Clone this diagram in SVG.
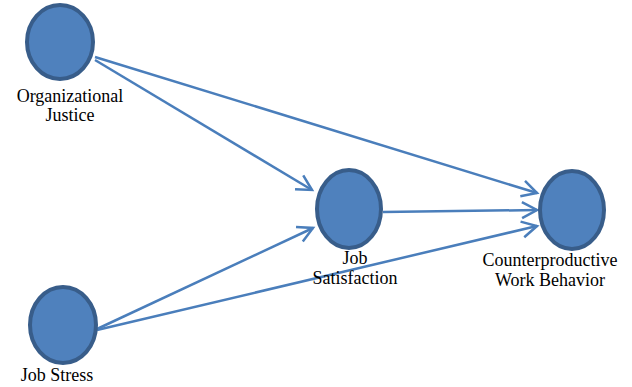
<svg xmlns="http://www.w3.org/2000/svg" width="632" height="387" viewBox="0 0 632 387">
<style>
.node{fill:#4F81BD;stroke:#385D8A;stroke-width:4}
.lbl{font-family:'Liberation Serif','Times New Roman',Times,serif;font-size:18px;fill:#000;text-anchor:middle}
.edge{fill:none;stroke:#4A7EBB;stroke-width:2.5;marker-end:url(#arr)}
</style>
<defs>
<marker id="arr" markerUnits="userSpaceOnUse" markerWidth="30" markerHeight="30" viewBox="-20 -15 30 30" refX="0" refY="0" orient="auto">
<path d="M-15,-8 L0,0 L-15,8" fill="none" stroke="#4A7EBB" stroke-width="2.5"/>
</marker>
</defs>
<rect width="632" height="387" fill="#fff"/>
<g id="connectors">
<path class="edge" d="M95,57 L537,193"/>
<path class="edge" d="M95,60 L312,190"/>
<path class="edge" d="M97,329 L313,228"/>
<path class="edge" d="M97,330 L537,226"/>
<path class="edge" d="M383,212 L537,210"/>
</g>
<g id="organizational-justice">
<ellipse class="node" cx="60" cy="42" rx="33" ry="37"/>
<text class="lbl" x="70" y="102">Organizational</text>
<text class="lbl" x="70" y="121">Justice</text>
</g>
<g id="job-satisfaction">
<ellipse class="node" cx="349" cy="209" rx="32" ry="39"/>
<text class="lbl" x="355" y="264">Job</text>
<text class="lbl" x="355" y="284">Satisfaction</text>
</g>
<g id="counterproductive-work-behavior">
<ellipse class="node" cx="572" cy="210" rx="32" ry="39"/>
<text class="lbl" x="550" y="266">Counterproductive</text>
<text class="lbl" x="550" y="286">Work Behavior</text>
</g>
<g id="job-stress">
<ellipse class="node" cx="63" cy="325" rx="33" ry="38"/>
<text class="lbl" x="57" y="381">Job Stress</text>
</g>
</svg>
